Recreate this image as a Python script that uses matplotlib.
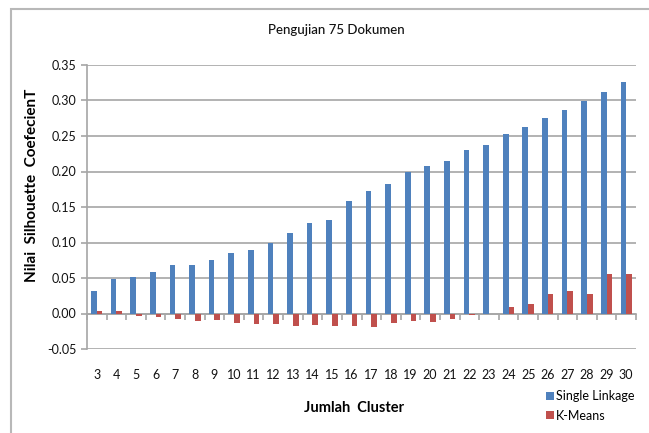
import numpy as np
import matplotlib.pyplot as plt
from matplotlib.patches import Rectangle

plt.rcParams['font.family'] = ['Lato', 'DejaVu Sans']

# Data
clusters = list(range(3, 31))
single_linkage = [0.031, 0.048, 0.052, 0.059, 0.069, 0.069, 0.075, 0.085, 0.089, 0.100,
                  0.113, 0.128, 0.132, 0.159, 0.172, 0.182, 0.199, 0.208, 0.215, 0.230,
                  0.238, 0.253, 0.262, 0.275, 0.287, 0.300, 0.312, 0.326]
kmeans = [0.003, 0.004, -0.003, -0.005, -0.008, -0.010, -0.009, -0.013, -0.015, -0.015,
          -0.018, -0.016, -0.018, -0.017, -0.019, -0.013, -0.010, -0.012, -0.008, -0.002,
          0.000, 0.009, 0.014, 0.027, 0.032, 0.028, 0.055, 0.055]

blue = '#4F81BD'
red = '#C0504D'
grid_col = '#a6a6a6'

fig = plt.figure(figsize=(6.49, 4.33), dpi=100)
# outer chart border (Excel style)
fig.patches.append(Rectangle((11 / 649, -0.1), 1.2, 1 - 9 / 433 + 0.1, transform=fig.transFigure,
                             fill=False, edgecolor='#b8b8b8', linewidth=1.5))

ax = fig.add_axes([87 / 649, 1 - 349 / 433, (636 - 87) / 649, (349 - 65) / 433])

x = np.arange(len(clusters))
w = 0.29
ax.bar(x - w / 2, single_linkage, w, color=blue, label='Single Linkage', zorder=3)
ax.bar(x + w / 2, kmeans, w, color=red, label='K-Means', zorder=3)

ax.set_xlim(-0.5, len(clusters) - 0.5)
ax.set_ylim(-0.05, 0.35)
ax.set_yticks(np.arange(-0.05, 0.351, 0.05))
ax.set_yticklabels([f'{v:.2f}' for v in np.arange(-0.05, 0.351, 0.05)])
ax.yaxis.grid(True, color=grid_col, linewidth=1.2, zorder=0)
ax.set_axisbelow(True)

for s in ['top', 'right']:
    ax.spines[s].set_visible(False)
ax.spines['left'].set_color(grid_col)
ax.spines['left'].set_linewidth(1.2)
ax.spines['bottom'].set_position(('data', 0))
ax.spines['bottom'].set_color(grid_col)
ax.spines['bottom'].set_linewidth(1.2)

ax.set_xticks(x)
ax.set_xticklabels([str(c) for c in clusters])
ax.set_xticks(np.arange(-0.5, len(clusters), 1.0), minor=True)
ax.tick_params(axis='x', which='major', length=0, pad=40, labelsize=9, colors='#111111')
ax.tick_params(axis='x', which='minor', length=4, color=grid_col, width=1.2)
ax.tick_params(axis='y', length=4, color=grid_col, width=1.2, labelsize=9, labelcolor='#111111')

fig.text(336 / 649, 1 - 30 / 433, 'Pengujian 75 Dokumen', ha='center', va='center',
         fontsize=9.5, fontweight='medium', color='#111111')
fig.text(32 / 649, 1 - 185 / 433, 'Nilai  Silhouette  CoefecienT', rotation=90,
         ha='center', va='center', fontsize=11, fontweight='bold')
fig.text(354 / 649, 1 - 408 / 433, 'Jumlah  Cluster', ha='center', va='center',
         fontsize=10.5, fontweight='bold')

fig.legend(loc='center left', bbox_to_anchor=(546 / 649, 1 - 406 / 433), frameon=False,
           fontsize=9, handlelength=0.6, handleheight=0.6, handletextpad=0.2,
           labelspacing=0.6, borderaxespad=0, borderpad=0)

fig.savefig('out.png', dpi=100)
